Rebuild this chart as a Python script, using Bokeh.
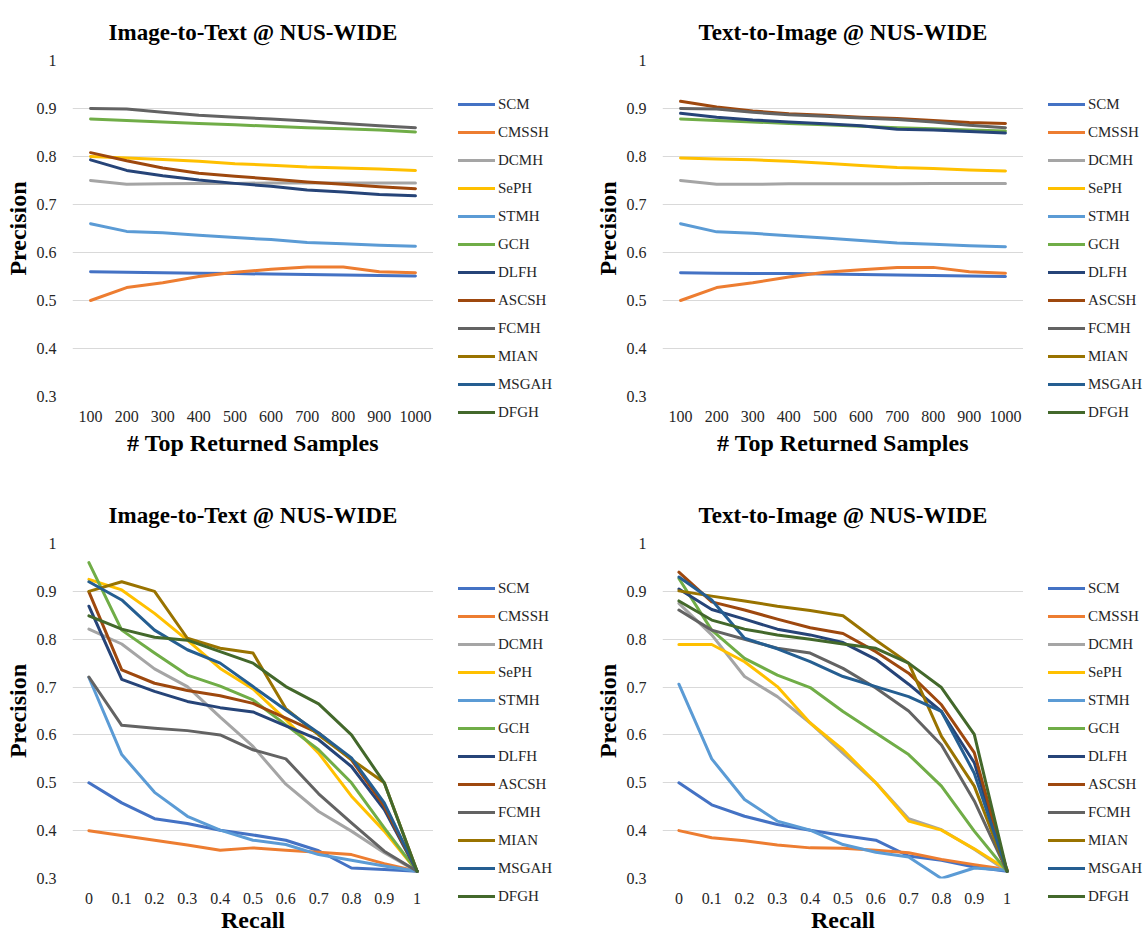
from bokeh.plotting import figure
from bokeh.layouts import column, row
from bokeh.models import (Legend, LegendItem, FixedTicker, CustomJSTickFormatter,
                          Range1d, FactorRange)
from bokeh.embed import file_html
from bokeh.resources import INLINE

methods = ["SCM", "CMSSH", "DCMH", "SePH", "STMH", "GCH", "DLFH", "ASCSH",
           "FCMH", "MIAN", "MSGAH", "DFGH"]
colors = ["#4472C4", "#ED7D31", "#A5A5A5", "#FFC000", "#5B9BD5", "#70AD47",
          "#264478", "#9E480E", "#636363", "#997300", "#255E91", "#43682B"]

top_k = ["100", "200", "300", "400", "500", "600", "700", "800", "900", "1000"]
recall = ["0", "0.1", "0.2", "0.3", "0.4", "0.5", "0.6", "0.7", "0.8", "0.9", "1"]
y_ticks = [0.3, 0.4, 0.5, 0.6, 0.7, 0.8, 0.9, 1.0]

# Image-to-Text @ NUS-WIDE, precision vs top returned samples
i2t_topk = {
    "SCM":   [0.560, 0.559, 0.558, 0.557, 0.556, 0.555, 0.554, 0.553, 0.552, 0.551],
    "CMSSH": [0.500, 0.527, 0.537, 0.550, 0.559, 0.565, 0.570, 0.570, 0.560, 0.558],
    "DCMH":  [0.750, 0.742, 0.743, 0.744, 0.744, 0.745, 0.745, 0.745, 0.745, 0.745],
    "SePH":  [0.800, 0.797, 0.794, 0.790, 0.785, 0.782, 0.778, 0.776, 0.774, 0.771],
    "STMH":  [0.660, 0.644, 0.641, 0.636, 0.631, 0.627, 0.621, 0.618, 0.615, 0.613],
    "GCH":   [0.878, 0.875, 0.872, 0.869, 0.866, 0.863, 0.860, 0.858, 0.855, 0.851],
    "DLFH":  [0.793, 0.771, 0.760, 0.751, 0.744, 0.738, 0.730, 0.726, 0.721, 0.718],
    "ASCSH": [0.808, 0.791, 0.776, 0.765, 0.759, 0.753, 0.747, 0.742, 0.737, 0.733],
    "FCMH":  [0.900, 0.899, 0.892, 0.886, 0.882, 0.878, 0.874, 0.869, 0.864, 0.860],
}

# Text-to-Image @ NUS-WIDE, precision vs top returned samples
t2i_topk = {
    "SCM":   [0.558, 0.557, 0.556, 0.556, 0.555, 0.554, 0.553, 0.552, 0.551, 0.550],
    "CMSSH": [0.500, 0.527, 0.537, 0.549, 0.559, 0.564, 0.569, 0.569, 0.560, 0.557],
    "DCMH":  [0.750, 0.742, 0.742, 0.743, 0.743, 0.743, 0.743, 0.744, 0.744, 0.744],
    "SePH":  [0.797, 0.795, 0.793, 0.790, 0.786, 0.781, 0.777, 0.775, 0.772, 0.770],
    "STMH":  [0.660, 0.643, 0.640, 0.635, 0.630, 0.625, 0.620, 0.617, 0.614, 0.612],
    "GCH":   [0.878, 0.875, 0.872, 0.869, 0.866, 0.863, 0.860, 0.858, 0.855, 0.853],
    "DLFH":  [0.890, 0.882, 0.876, 0.872, 0.868, 0.864, 0.857, 0.855, 0.852, 0.849],
    "ASCSH": [0.915, 0.903, 0.895, 0.889, 0.886, 0.882, 0.879, 0.875, 0.871, 0.869],
    "FCMH":  [0.900, 0.899, 0.892, 0.887, 0.884, 0.880, 0.877, 0.872, 0.865, 0.860],
}

# Image-to-Text @ NUS-WIDE, precision-recall
i2t_pr = {
    "SCM":   [0.500, 0.458, 0.425, 0.415, 0.401, 0.391, 0.380, 0.358, 0.322, 0.319, 0.315],
    "CMSSH": [0.400, 0.390, 0.380, 0.370, 0.359, 0.364, 0.359, 0.355, 0.350, 0.331, 0.315],
    "DCMH":  [0.821, 0.790, 0.738, 0.701, 0.637, 0.576, 0.497, 0.440, 0.399, 0.354, 0.315],
    "SePH":  [0.925, 0.903, 0.854, 0.798, 0.739, 0.696, 0.632, 0.562, 0.472, 0.399, 0.315],
    "STMH":  [0.720, 0.559, 0.480, 0.430, 0.401, 0.380, 0.371, 0.350, 0.338, 0.326, 0.315],
    "GCH":   [0.960, 0.819, 0.771, 0.725, 0.702, 0.673, 0.621, 0.569, 0.500, 0.406, 0.315],
    "DLFH":  [0.869, 0.716, 0.691, 0.670, 0.657, 0.648, 0.619, 0.590, 0.534, 0.444, 0.315],
    "ASCSH": [0.899, 0.736, 0.708, 0.693, 0.682, 0.666, 0.635, 0.604, 0.548, 0.451, 0.315],
    "FCMH":  [0.721, 0.620, 0.614, 0.609, 0.600, 0.569, 0.550, 0.477, 0.416, 0.357, 0.315],
    "MIAN":  [0.900, 0.920, 0.900, 0.802, 0.781, 0.771, 0.655, 0.600, 0.549, 0.500, 0.315],
    "MSGAH": [0.920, 0.882, 0.819, 0.778, 0.750, 0.701, 0.652, 0.604, 0.552, 0.458, 0.315],
    "DFGH":  [0.849, 0.821, 0.804, 0.798, 0.774, 0.750, 0.701, 0.665, 0.600, 0.500, 0.315],
}

# Text-to-Image @ NUS-WIDE, precision-recall
t2i_pr = {
    "SCM":   [0.500, 0.454, 0.430, 0.413, 0.401, 0.390, 0.380, 0.347, 0.338, 0.324, 0.315],
    "CMSSH": [0.400, 0.385, 0.379, 0.370, 0.364, 0.363, 0.359, 0.354, 0.340, 0.329, 0.319],
    "DCMH":  [0.875, 0.809, 0.722, 0.680, 0.625, 0.562, 0.500, 0.425, 0.402, 0.361, 0.315],
    "SePH":  [0.789, 0.789, 0.753, 0.701, 0.625, 0.569, 0.500, 0.420, 0.401, 0.362, 0.319],
    "STMH":  [0.706, 0.550, 0.465, 0.420, 0.401, 0.371, 0.355, 0.345, 0.300, 0.322, 0.317],
    "GCH":   [0.927, 0.819, 0.760, 0.725, 0.699, 0.649, 0.604, 0.559, 0.493, 0.399, 0.315],
    "DLFH":  [0.905, 0.862, 0.842, 0.821, 0.809, 0.793, 0.758, 0.706, 0.649, 0.542, 0.315],
    "ASCSH": [0.940, 0.878, 0.861, 0.842, 0.824, 0.812, 0.774, 0.729, 0.663, 0.563, 0.315],
    "FCMH":  [0.861, 0.819, 0.800, 0.781, 0.771, 0.739, 0.698, 0.650, 0.579, 0.462, 0.315],
    "MIAN":  [0.901, 0.890, 0.880, 0.869, 0.860, 0.849, 0.798, 0.750, 0.597, 0.493, 0.315],
    "MSGAH": [0.930, 0.882, 0.802, 0.780, 0.753, 0.722, 0.701, 0.680, 0.649, 0.520, 0.315],
    "DFGH":  [0.880, 0.840, 0.821, 0.809, 0.800, 0.790, 0.781, 0.750, 0.699, 0.601, 0.315],
}

SERIF = "Liberation Serif"
TXT = "#262626"
FRAME_W = 361
NAN = float("nan")


def make_panel(title, factors, data, xlabel, left, top, height, bottom,
               mls, als, legend_bottom):
    p = figure(width=left + FRAME_W, height=height, x_range=FactorRange(*factors),
               y_range=Range1d(0.3, 1.0), output_backend="svg",
               toolbar_location=None, min_border_left=left,
               min_border_right=0, min_border_top=top, min_border_bottom=bottom)
    p.outline_line_color = None
    p.background_fill_color = "white"
    p.border_fill_color = "white"

    p.title.text = title
    p.title.text_font = SERIF
    p.title.text_font_style = "bold"
    p.title.text_font_size = "23px"
    p.title.text_color = "black"
    p.title.align = "center"
    p.title.standoff = 32

    for m, c in zip(methods, colors):
        if m in data:
            p.line(x=factors, y=data[m], line_color=c, line_width=3,
                   line_join="round", line_cap="round")

    p.xgrid.grid_line_color = None
    p.ygrid.grid_line_color = "#D9D9D9"
    p.ygrid.grid_line_width = 1

    p.yaxis.ticker = FixedTicker(ticks=y_ticks)
    p.yaxis.formatter = CustomJSTickFormatter(
        code="return tick > 0.999 ? '1' : tick.toFixed(1);")
    p.yaxis.axis_label = "Precision"
    for ax in (p.xaxis, p.yaxis):
        ax.axis_line_color = None
        ax.major_tick_line_color = None
        ax.minor_tick_line_color = None
        ax.major_label_text_font = SERIF
        ax.major_label_text_font_size = "16px"
        ax.major_label_text_color = TXT
        ax.axis_label_text_font = SERIF
        ax.axis_label_text_font_style = "bold"
        ax.axis_label_text_font_size = "24px"
        ax.axis_label_text_color = "black"
    p.yaxis.major_label_standoff = 10
    p.yaxis.axis_label_standoff = 3
    p.xaxis.axis_label = xlabel
    p.xaxis.major_label_standoff = mls
    p.xaxis.axis_label_standoff = als

    # legend panel (own small figure to the right of the plot area)
    lw = 573 - left - FRAME_W
    lg = figure(width=lw, height=height, output_backend="svg",
                toolbar_location=None, x_axis_location=None,
                y_axis_location=None, min_border=0,
                x_range=Range1d(0, 1), y_range=Range1d(0, 1))
    lg.frame_align = False
    lg.outline_line_color = None
    lg.grid.visible = False
    items = []
    for m, c in zip(methods, colors):
        r = lg.line(x=[0], y=[NAN], line_color=c, line_width=3,
                    line_join="round", line_cap="round")
        items.append(LegendItem(label=m, renderers=[r]))
    leg = Legend(items=items, location=(25, legend_bottom), orientation="vertical",
                 glyph_width=37, glyph_height=20, label_height=20, spacing=8,
                 label_standoff=3, padding=0, margin=0,
                 border_line_color=None, background_fill_alpha=0,
                 label_text_font=SERIF, label_text_font_size="15px",
                 label_text_color=TXT)
    lg.add_layout(leg, "center")
    return row(p, lg)


TOP_H, BOT_H = 465, 470
r1 = make_panel("Image-to-Text @ NUS-WIDE", top_k, i2t_topk,
                "# Top Returned Samples", 72, 60, TOP_H, 69, 8, 5, 43)
r2 = make_panel("Text-to-Image @ NUS-WIDE", top_k, t2i_topk,
                "# Top Returned Samples", 89, 60, TOP_H, 69, 8, 5, 43)
r3 = make_panel("Image-to-Text @ NUS-WIDE", recall, i2t_pr,
                "Recall", 72, 78, BOT_H, 56, 8, 0, 29)
r4 = make_panel("Text-to-Image @ NUS-WIDE", recall, t2i_pr,
                "Recall", 89, 78, BOT_H, 56, 8, 0, 29)

layout = column(row(r1, r2), row(r3, r4))
open("out.html", "w").write(file_html(layout, INLINE))
